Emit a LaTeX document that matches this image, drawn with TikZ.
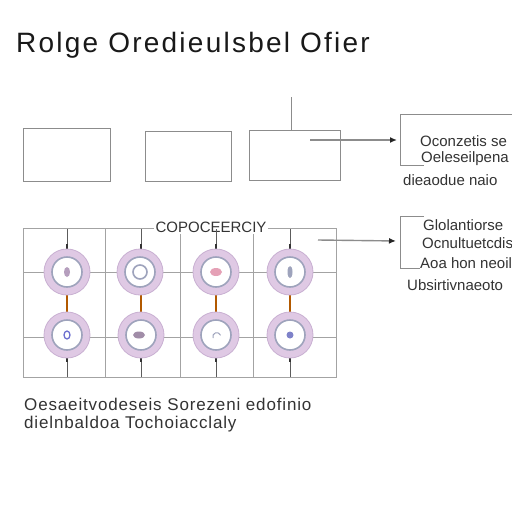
\documentclass[tikz,border=0pt]{standalone}
\usepackage{fontspec}
\setmainfont{Liberation Sans}
\usetikzlibrary{arrows.meta}
\definecolor{linegray}{HTML}{8C8C8C}
\definecolor{ringfill}{HTML}{DFC9E4}
\definecolor{ringedge}{HTML}{C9B0D2}
\definecolor{coregray}{HTML}{9EA3BC}
\definecolor{txtgray}{HTML}{333333}
\tikzset{
  plainbox/.style={draw=linegray, line width=0.9pt},
  gridline/.style={draw=linegray!80, line width=0.9pt},
  ticker/.style={draw=txtgray, line width=1.3pt},
  note/.style={text=txtgray, font=\fontsize{15}{15}\selectfont, anchor=west, inner sep=0pt},
  feed/.style={draw=linegray, line width=1.4pt, -{Latex[length=7pt,width=6pt,color=black!85]}, shorten >=2pt}
}
\begin{document}
\begin{tikzpicture}[x=1pt,y=-1pt]
        \useasboundingbox[fill=white] (0,0) rectangle (512,512);
        % title
        \node[anchor=west, inner sep=0pt, text=black!90, font=\fontsize{28}{28}\selectfont\addfontfeature{LetterSpace=8}] (title) at (16,45) {Rolge Oredieulsbel Ofier};
        % top row of boxes
        \node[plainbox, minimum width=87pt, minimum height=53pt] (boxa) at (66.5,154.5) {};
        \node[plainbox, minimum width=86pt, minimum height=50pt] (boxb) at (188,156) {};
        \node[plainbox, minimum width=91pt, minimum height=50pt] (boxc) at (294.5,155) {};
        \coordinate (stem) at (291,97);
        \draw[plainbox] (stem) -- (291,130);
        \coordinate (feeda) at (310,140);
        % first note box, open on the right
        \draw[plainbox] (520,114) -- (400,114) -- (400,165) -- (424,165);
        \coordinate (notea) at (399,140);
        \draw[feed] (feeda) -- (notea);
        \node[note] (na1) at (420,141) {Oconzetis se};
        \node[note] (na2) at (421,159) {Oeleseilpena};
        \node[note] (na3) at (403,180) {dieaodue naio};
        % grid of cells
        \draw[gridline] (23,228) rectangle (336,377);
        \foreach \gx in {105,180,253} \draw[gridline] (\gx,228) -- (\gx,377);
        \foreach \gy in {272,337} \draw[gridline] (23,\gy) -- (336,\gy);
        \node[fill=white, text=txtgray, inner sep=2pt, font=\fontsize{15}{15}\selectfont] (gridlabel) at (211,227) {COPOCEERCIY};
        % stems and links between cells
        \foreach \cx in {67,141,216,290} {
          \draw[ticker, draw=txtgray!80, line width=1pt] (\cx,229) -- (\cx,250);
          \draw[ticker, line width=2.6pt] (\cx,244) -- (\cx,252);
          \draw[ticker, draw=txtgray!80, line width=1pt] (\cx,356) -- (\cx,377);
          \draw[ticker, line width=2.6pt] (\cx,355) -- (\cx,362);
          \draw[draw=orange!70!black, line width=1.3pt] (\cx,294) -- (\cx,314);
        }
        % cells
        \foreach \cx/\cy/\nm in {67/272/ca,140/272/cb,216/272/cc,290/272/cd,67/335/ce,141/335/cf,216/335/cg,290/335/ch} {
          \node[circle, fill=ringfill, draw=ringedge, line width=0.8pt, minimum size=46pt, inner sep=0pt] (\nm) at (\cx,\cy) {};
          \node[circle, fill=white, draw=coregray, line width=1.6pt, minimum size=30pt, inner sep=0pt] (\nm core) at (\cx,\cy) {};
        }
        % what sits in each core
        \fill[ringedge!90!black] (cacore) ellipse (3pt and 5pt);
        \draw[coregray, line width=1.6pt] (cbcore) circle (7pt);
        \fill[ringfill!80!red] (cccore) ellipse (6pt and 4pt);
        \fill[coregray] (cdcore) ellipse (2.5pt and 6pt);
        \draw[coregray!70!blue, line width=1.3pt] (cecore) ellipse (3pt and 4pt);
        \fill[ringedge!80!black] ([xshift=-2pt]cfcore.center) ellipse (6pt and 3.5pt);
        \draw[coregray, line width=1pt] (cgcore) ++(-3,3) arc (200:20:4pt);
        \fill[coregray!80!blue] (chcore) circle (3.5pt);
        % second note box
        \draw[plainbox] (424,216) -- (400,216) -- (400,268) -- (420,268);
        \coordinate (feedb) at (318,240);
        \coordinate (noteb) at (398,241);
        \draw[feed] (feedb) -- (noteb);
        \node[note] (nb1) at (423,225) {Glolantiorse};
        \node[note] (nb2) at (422,243) {Ocnultuetcdis};
        \node[note] (nb3) at (420,263) {Aoa hon neoil};
        \node[note] (nb4) at (407,285) {Ubsirtivnaeoto};
        % caption under the grid
        \node[anchor=west, inner sep=0pt, text=txtgray, font=\fontsize{17}{17}\selectfont\addfontfeature{LetterSpace=5}] (capa) at (24,404) {Oesaeitvodeseis Sorezeni edofinio};
        \node[anchor=west, inner sep=0pt, text=txtgray, font=\fontsize{17}{17}\selectfont\addfontfeature{LetterSpace=5}] (capb) at (24,424) {dielnbaldoa Tochoiacclaly};
\end{tikzpicture}
\end{document}
